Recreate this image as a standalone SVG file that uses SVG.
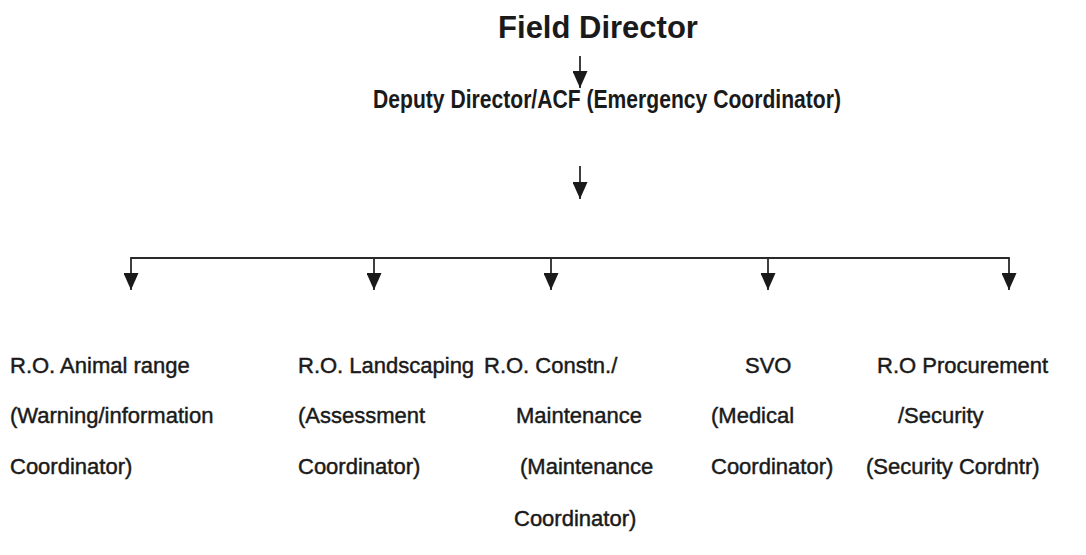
<svg xmlns="http://www.w3.org/2000/svg" width="1086" height="555" viewBox="0 0 1086 555">
<style>
.t{font-family:"Liberation Sans",Arial,sans-serif;fill:#1a1a1a}
.h{font-weight:bold}
.b{font-size:22px;stroke:#1a1a1a;stroke-width:0.45px}
.ln{stroke:#2a2a2a;stroke-width:1.8;fill:none}
</style>
<defs>
<marker id="ah" viewBox="0 0 17 15" refX="17" refY="7.5" markerWidth="17" markerHeight="15" markerUnits="userSpaceOnUse" orient="auto">
<path d="M0,0 L17,7.5 L0,15 Z" fill="#1a1a1a"/>
</marker>
</defs>
<rect width="1086" height="555" fill="#fff"/>
<g id="n-field-director"><text class="t h" x="598" y="38" font-size="31" text-anchor="middle">Field Director</text></g>
<g id="n-deputy"><text class="t h" x="607" y="108" font-size="26" text-anchor="middle" textLength="468" lengthAdjust="spacingAndGlyphs">Deputy Director/ACF (Emergency Coordinator)</text></g>
<g id="connectors">
<line class="ln" x1="580" y1="56" x2="580" y2="88" marker-end="url(#ah)"/>
<line class="ln" x1="580" y1="166" x2="580" y2="199" marker-end="url(#ah)"/>
<polyline class="ln" points="131,258 1009,258"/>
<line class="ln" x1="131" y1="257" x2="131" y2="290" marker-end="url(#ah)"/>
<line class="ln" x1="374" y1="258" x2="374" y2="290" marker-end="url(#ah)"/>
<line class="ln" x1="551" y1="258" x2="551" y2="290" marker-end="url(#ah)"/>
<line class="ln" x1="768" y1="258" x2="768" y2="290" marker-end="url(#ah)"/>
<line class="ln" x1="1009" y1="257" x2="1009" y2="290" marker-end="url(#ah)"/>
</g>
<g id="n-animal-range">
<text class="t b" x="10" y="373">R.O. Animal range</text>
<text class="t b" x="10" y="423">(Warning/information</text>
<text class="t b" x="10" y="474">Coordinator)</text>
</g>
<g id="n-landscaping">
<text class="t b" x="298" y="373">R.O. Landscaping</text>
<text class="t b" x="298" y="423">(Assessment</text>
<text class="t b" x="298" y="474">Coordinator)</text>
</g>
<g id="n-constn">
<text class="t b" x="484" y="373">R.O. Constn./</text>
<text class="t b" x="516" y="423">Maintenance</text>
<text class="t b" x="520" y="474">(Maintenance</text>
<text class="t b" x="514" y="526">Coordinator)</text>
</g>
<g id="n-svo">
<text class="t b" x="745" y="373">SVO</text>
<text class="t b" x="711" y="423">(Medical</text>
<text class="t b" x="711" y="474">Coordinator)</text>
</g>
<g id="n-procurement">
<text class="t b" x="877" y="373">R.O Procurement</text>
<text class="t b" x="898" y="423">/Security</text>
<text class="t b" x="866" y="474">(Security Cordntr)</text>
</g>
</svg>
